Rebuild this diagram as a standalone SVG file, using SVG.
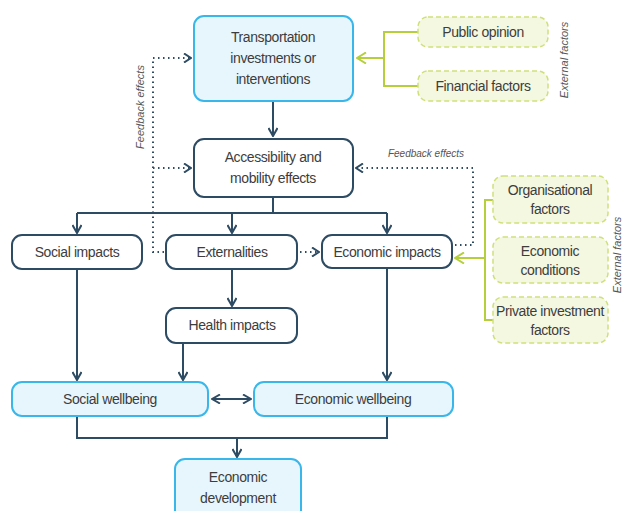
<svg xmlns="http://www.w3.org/2000/svg" width="625" height="511" viewBox="0 0 625 511">
<defs>
<marker id="ah" viewBox="0 0 10 10" refX="9" refY="5" markerWidth="10" markerHeight="10" markerUnits="userSpaceOnUse" orient="auto-start-reverse">
<path d="M1,0.5 L9,5 L1,9.5" fill="none" stroke="#2d4b63" stroke-width="2"/>
</marker>
<marker id="ahd" viewBox="0 0 10 10" refX="9" refY="5" markerWidth="10" markerHeight="10" markerUnits="userSpaceOnUse" orient="auto">
<path d="M2,0.5 L9,5 L2,9.5" fill="none" stroke="#2d4b63" stroke-width="2"/>
</marker>
<marker id="ahg" viewBox="0 0 12 12" refX="11" refY="6" markerWidth="12" markerHeight="12" markerUnits="userSpaceOnUse" orient="auto">
<path d="M2,0.5 L11,6 L2,11.5" fill="none" stroke="#b5cf3a" stroke-width="2"/>
</marker>
</defs>
<style>
text{font-family:"Liberation Sans",Arial,sans-serif;font-size:14px;letter-spacing:-0.4px;fill:#3d3d3d;text-anchor:middle}
.it{font-style:italic;font-size:10px;letter-spacing:0;fill:#555}
.rot{font-size:11px}
.blue{fill:#e7f6fd;stroke:#3ab7ea;stroke-width:2}
.dark{fill:#ffffff;stroke:#2d4b63;stroke-width:2}
.ext{fill:#f4f8e1;stroke:#cfe07a;stroke-width:1.5;stroke-dasharray:5 3}
.ln{fill:none;stroke:#2d4b63;stroke-width:2}
.dot{fill:none;stroke:#2d4b63;stroke-width:2;stroke-dasharray:1.5 3.5}
.gr{fill:none;stroke:#b5cf3a;stroke-width:2}
</style>
<g id="connectors">
<path class="ln" d="M273,101 V136" marker-end="url(#ah)"/>
<path class="ln" d="M273,197 V213"/>
<path class="ln" d="M77,213 H387"/>
<path class="ln" d="M77,213 V233" marker-end="url(#ah)"/>
<path class="ln" d="M232,213 V233" marker-end="url(#ah)"/>
<path class="ln" d="M387,213 V233" marker-end="url(#ah)"/>
<path class="ln" d="M232,269 V306" marker-end="url(#ah)"/>
<path class="ln" d="M77,269 V380" marker-end="url(#ah)"/>
<path class="ln" d="M183,343 V380" marker-end="url(#ah)"/>
<path class="ln" d="M387,268 V380" marker-end="url(#ah)"/>
<path class="ln" d="M212,399 H251" marker-start="url(#ah)" marker-end="url(#ah)"/>
<path class="ln" d="M77,416 V438 H387 V416"/>
<path class="ln" d="M237,438 V457" marker-end="url(#ah)"/>
<path class="dot" d="M164,252 H153 V58 H191" marker-end="url(#ahd)"/>
<path class="dot" d="M153,168 H191" marker-end="url(#ahd)"/>
<path class="dot" d="M300,252 H319" marker-end="url(#ahd)"/>
<path class="dot" d="M455,245 H473 V168 H356" marker-end="url(#ahd)"/>
<path class="gr" d="M418,32 H384 V86 H418"/>
<path class="gr" d="M384,58 H357" marker-end="url(#ahg)"/>
<path class="gr" d="M493,200 H485 V320 H493"/>
<path class="gr" d="M485,258 H455" marker-end="url(#ahg)"/>
<text class="it rot" transform="translate(144,107) rotate(-90)">Feedback effects</text>
<text class="it" x="426" y="157">Feedback effects</text>
<text class="it rot" transform="translate(568,60) rotate(-90)">External factors</text>
<text class="it rot" transform="translate(621,255) rotate(-90)">External factors</text>
</g>
<g id="transport"><rect class="blue" x="194" y="16" width="159" height="85" rx="10"/>
<text x="273" y="42">Transportation</text><text x="273" y="63">investments or</text><text x="273" y="84">interventions</text></g>
<g id="access"><rect class="dark" x="194" y="139" width="159" height="58" rx="10"/>
<text x="273" y="162">Accessibility and</text><text x="273" y="183">mobility effects</text></g>
<g id="public"><rect class="ext" x="418" y="17" width="130" height="30" rx="10"/><text x="483" y="37">Public opinion</text></g>
<g id="financial"><rect class="ext" x="418" y="71" width="130" height="30" rx="10"/><text x="483" y="91">Financial factors</text></g>
<g id="social"><rect class="dark" x="12" y="235" width="130" height="34" rx="10"/><text x="77" y="257">Social impacts</text></g>
<g id="extern"><rect class="dark" x="166" y="235" width="131" height="34" rx="10"/><text x="232" y="257">Externalities</text></g>
<g id="econimp"><rect class="dark" x="322" y="235" width="130" height="33" rx="10"/><text x="387" y="257">Economic impacts</text></g>
<g id="org"><rect class="ext" x="493" y="176" width="115" height="47" rx="10"/><text x="550" y="195">Organisational</text><text x="550" y="214">factors</text></g>
<g id="econcond"><rect class="ext" x="493" y="237" width="115" height="46" rx="10"/><text x="550" y="256">Economic</text><text x="550" y="275">conditions</text></g>
<g id="private"><rect class="ext" x="493" y="297" width="115" height="46" rx="10"/><text x="550" y="316">Private investment</text><text x="550" y="335">factors</text></g>
<g id="health"><rect class="dark" x="166" y="308" width="131" height="35" rx="10"/><text x="232" y="330">Health impacts</text></g>
<g id="socwell"><rect class="blue" x="12" y="382" width="196" height="34" rx="10"/><text x="110" y="404">Social wellbeing</text></g>
<g id="econwell"><rect class="blue" x="254" y="382" width="199" height="34" rx="10"/><text x="353" y="404">Economic wellbeing</text></g>
<g id="econdev"><rect class="blue" x="175" y="459" width="126" height="62" rx="10"/><text x="238" y="482">Economic</text><text x="238" y="503">development</text></g>
</svg>
